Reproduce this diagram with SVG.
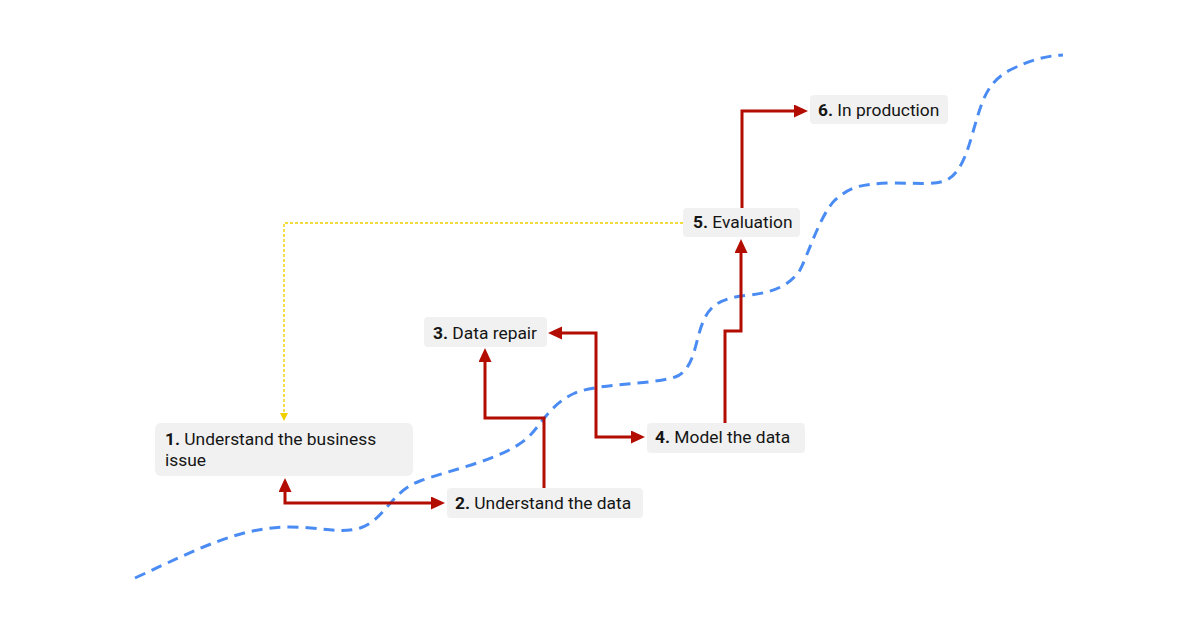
<svg xmlns="http://www.w3.org/2000/svg" width="1202" height="634" viewBox="0 0 1202 634">
<defs>
<style>
.box{fill:#f1f1f1}
.lbl{font-family:Roboto,"Liberation Sans",sans-serif;font-size:17.4px;fill:#151515}
.num{font-weight:700}
.red{fill:none;stroke:#b30c00;stroke-width:3;stroke-linejoin:miter}
.ylw{fill:none;stroke:#f0d000;stroke-width:1.4;stroke-dasharray:3 2}
.trend{fill:none;stroke:#4a8cf3;stroke-width:3;stroke-dasharray:11 7}
</style>
<marker id="ar" markerUnits="userSpaceOnUse" markerWidth="15" markerHeight="14" refX="0" refY="6.5" orient="auto-start-reverse" viewBox="0 0 15 14">
<path d="M0,0 L14,6.5 L0,13 z" fill="#b30c00"/>
</marker>
<marker id="ay" markerUnits="userSpaceOnUse" markerWidth="10" markerHeight="10" refX="0" refY="4" orient="auto" viewBox="0 0 10 10">
<path d="M0,0 L8,4 L0,8 z" fill="#f0d000"/>
</marker>
</defs>
<rect width="1202" height="634" fill="#ffffff"/>
<path class="trend" d="M135,578 C200,548 240,527 290,527 C320,527 340,534 360,528 C385,520 390,492 420,481 C450,470 500,460 525,440 C540,428 548,405 575,393 C600,383 650,385 675,377 C695,370 695,340 703,322 C710,305 720,298 750,295 C775,292 790,285 800,270 C808,255 820,215 835,200 C850,187 860,184 890,183 C920,183 935,185 947,180 C965,170 970,140 978,115 C985,92 992,80 1010,70 C1030,60 1045,56 1063,55"/>
<g id="connectors">
<path class="ylw" d="M683,223 H284 V413" marker-end="url(#ay)"/>
<path class="red" d="M285,492 V503 H431" marker-start="url(#ar)" marker-end="url(#ar)"/>
<path class="red" d="M544,488 V418 H485 V362" marker-end="url(#ar)"/>
<path class="red" d="M562,333 H596 V437 H631" marker-start="url(#ar)" marker-end="url(#ar)"/>
<path class="red" d="M725,423 V331 H741 V253" marker-end="url(#ar)"/>
<path class="red" d="M742,208 V111 H794" marker-end="url(#ar)"/>
</g>
<g id="node1">
<rect class="box" x="155" y="423" width="258" height="53" rx="6"/>
<text class="lbl" x="165" y="445"><tspan class="num">1.</tspan> Understand the business</text>
<text class="lbl" x="165" y="466">issue</text>
</g>
<g id="node2">
<rect class="box" x="447" y="488" width="196" height="30" rx="4"/>
<text class="lbl" x="455" y="509"><tspan class="num">2.</tspan> Understand the data</text>
</g>
<g id="node3">
<rect class="box" x="424" y="317" width="123" height="30" rx="4"/>
<text class="lbl" x="433" y="339"><tspan class="num">3.</tspan> Data repair</text>
</g>
<g id="node4">
<rect class="box" x="647" y="423" width="158" height="30" rx="4"/>
<text class="lbl" x="655" y="443"><tspan class="num">4.</tspan> Model the data</text>
</g>
<g id="node5">
<rect class="box" x="683" y="208" width="117" height="29" rx="4"/>
<text class="lbl" x="693" y="228"><tspan class="num">5.</tspan> Evaluation</text>
</g>
<g id="node6">
<rect class="box" x="810" y="95" width="138" height="29" rx="4"/>
<text class="lbl" x="818" y="116"><tspan class="num">6.</tspan> In production</text>
</g>
</svg>
